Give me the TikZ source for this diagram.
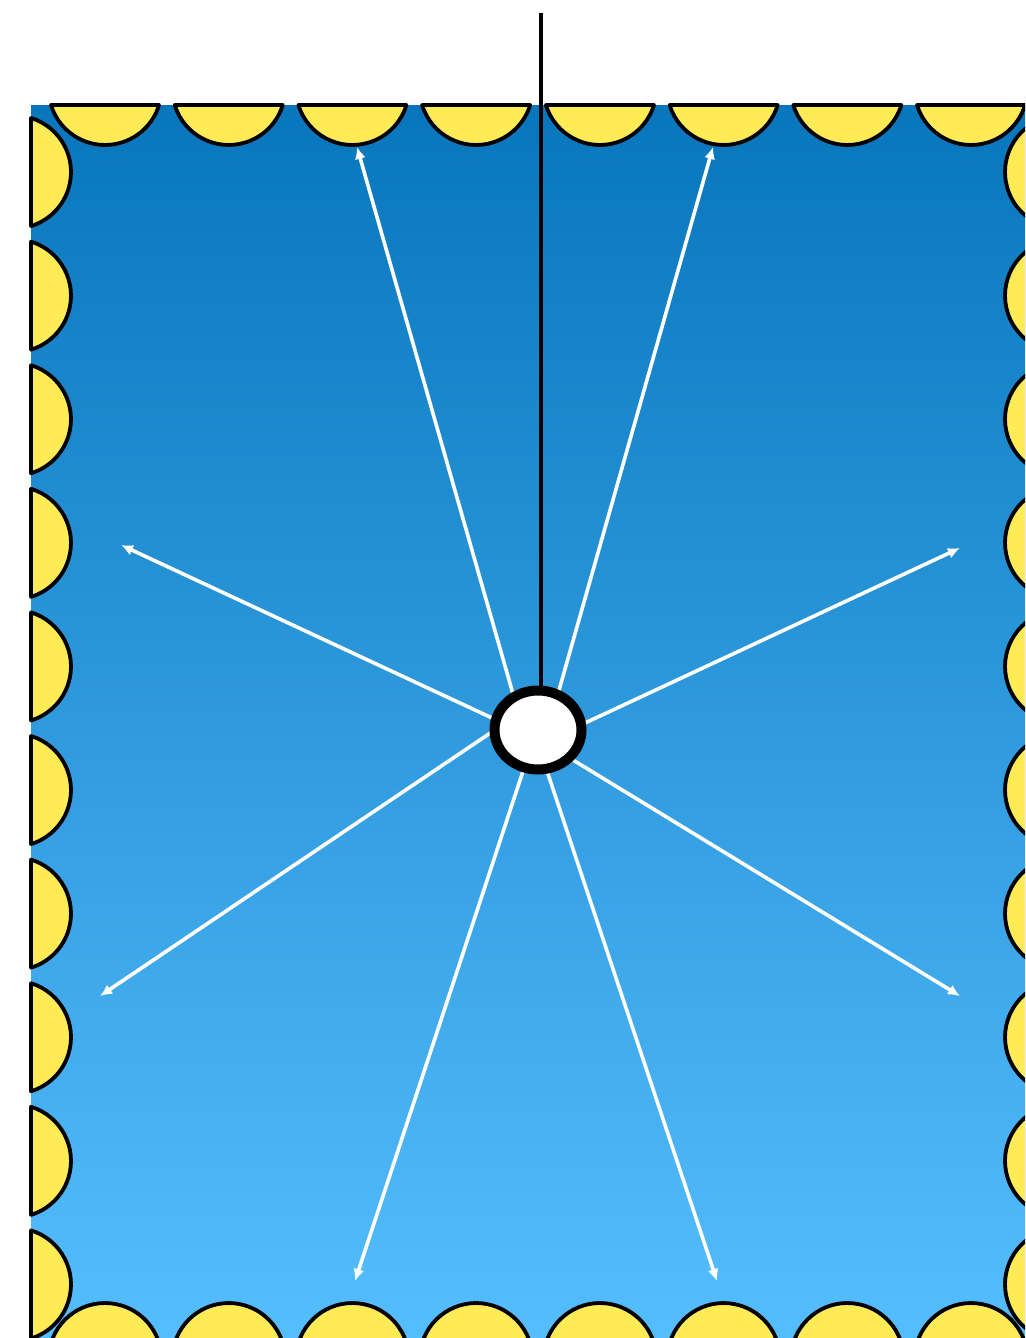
\documentclass[tikz,border=0pt]{standalone}
\usetikzlibrary{arrows.meta,shapes.geometric}
\definecolor{bluetop}{RGB}{8,118,188}
\definecolor{bluebot}{RGB}{85,190,255}
\definecolor{sunyellow}{RGB}{255,235,85}
\tikzset{
  seg/.style={draw=black, fill=sunyellow, line width=3.8pt, line join=round},
  ray/.style={draw=white, line width=3.6pt, -{Latex[length=12pt,width=11pt]}},
  hubstyle/.style={ellipse, draw=black, fill=white, line width=10pt, minimum width=87pt, minimum height=79pt, inner sep=0pt},
}
\begin{document}
\begin{tikzpicture}[x=1pt,y=-1pt]
\useasboundingbox (0,0) rectangle (1025,1338);
\begin{scope}
\clip (0,0) rectangle (1025,1338);
% tank
\shade[top color=bluetop, bottom color=bluebot] (31,105) rectangle (1045,1343);
% top and bottom segments
\foreach \cx in {105,228.7,352.4,476.1,599.9,723.6,847.3,971} {
  \path[seg] (\cx-54,105) arc[start angle=163, end angle=17, radius=56.5] -- cycle;
  \path[seg] (\cx-54,1343) arc[start angle=197, end angle=343, radius=56.5] -- cycle;
}
% left and right segments
\foreach \cy in {172,295.6,419.2,542.8,666.4,790,913.6,1037.2,1160.8,1284.4} {
  \path[seg] (31,\cy-54) arc[start angle=-73, end angle=73, radius=56.5] -- cycle;
  \path[seg] (1045,\cy-54) arc[start angle=253, end angle=107, radius=56.5] -- cycle;
}
\end{scope}
% ray coordinates
\coordinate (s1) at (519,715);  \coordinate (e1) at (357,147);
\coordinate (s2) at (552,715);  \coordinate (e2) at (713,147);
\coordinate (s3) at (520,731);  \coordinate (e3) at (121,545);
\coordinate (s4) at (555,737);  \coordinate (e4) at (960,548);
\coordinate (s5) at (520,713);  \coordinate (e5) at (100,996);
\coordinate (s6) at (555,749);  \coordinate (e6) at (960,996);
\coordinate (s7) at (530,750);  \coordinate (e7) at (355,1281);
\coordinate (s8) at (540,750);  \coordinate (e8) at (717,1281);
\foreach \i in {1,...,8} { \draw[ray] (s\i) -- (e\i); }
% hub
\node[hubstyle] (hub) at (538,730) {};
\coordinate (wire) at (541,13);
\draw[black, line width=3.2pt] (wire) -- (wire |- hub.north);
\end{tikzpicture}
\end{document}
